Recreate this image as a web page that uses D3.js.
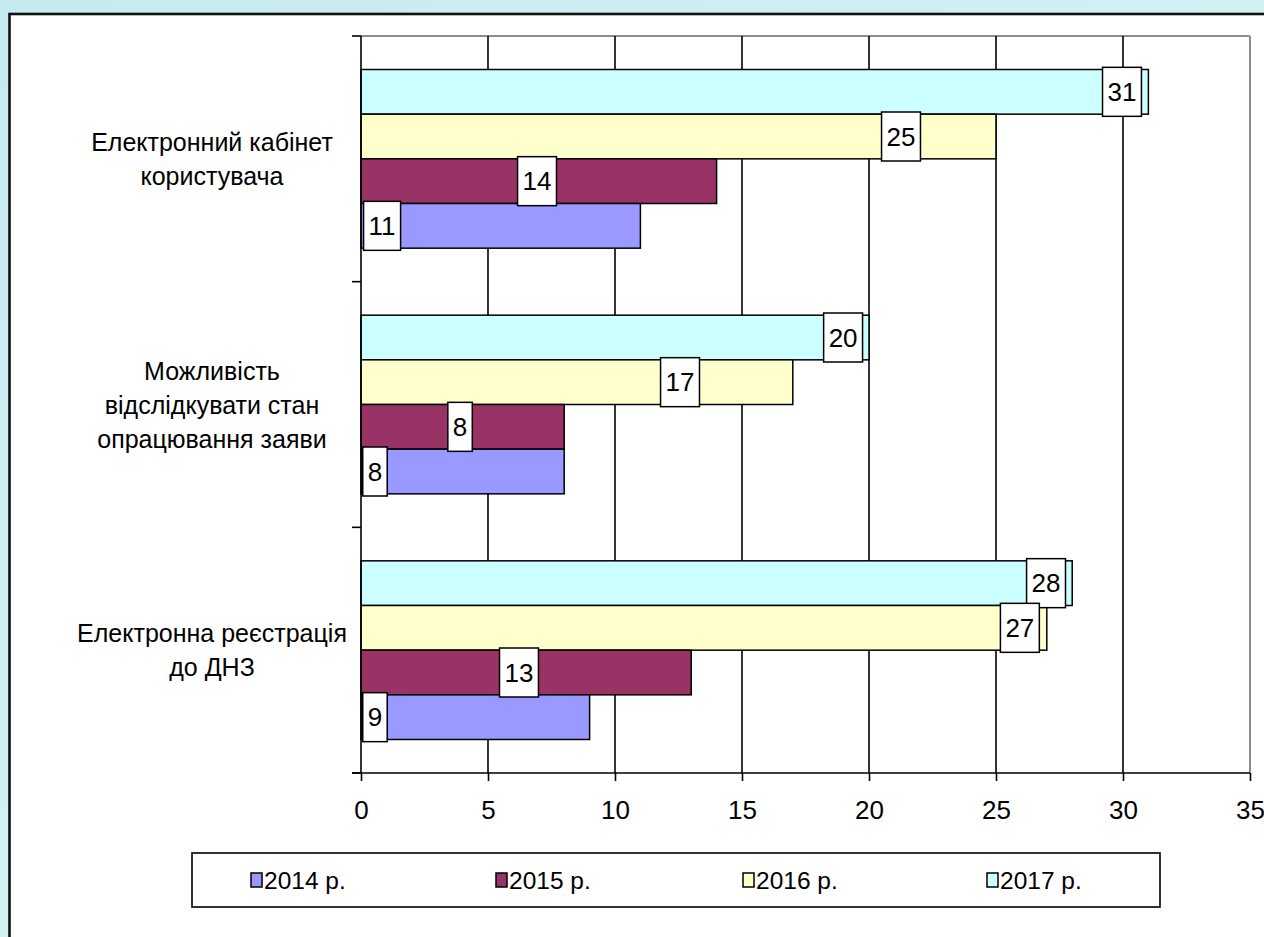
<!DOCTYPE html>
<html>
<head>
<meta charset="utf-8">
<script src="https://cdn.jsdelivr.net/npm/d3@7/dist/d3.min.js"></script>
<style>
  html, body { margin: 0; padding: 0; overflow: hidden; }
  body { width: 1264px; height: 937px; background: #cdeef1; }
  svg { display: block; }
  text { font-family: "Liberation Sans", Arial, sans-serif; fill: #000; }
</style>
</head>
<body>
<svg id="chart" width="1264" height="937"></svg>
<script>
// ---- data ----
const categories = [
  ["Електронний кабінет", "користувача"],
  ["Можливість", "відслідкувати стан", "опрацювання заяви"],
  ["Електронна реєстрація", "до ДНЗ"]
];
const seriesNames = ["2014 р.", "2015 р.", "2016 р.", "2017 р."];
const values2014 = [11, 8, 9];
const values2015 = [14, 8, 13];
const values2016 = [25, 17, 27];
const values2017 = [31, 20, 28];
// where each data label sits, in value units
const labelAt2014 = [0.83, 0.55, 0.55];
const labelAt2015 = [6.93, 3.9, 6.22];
const labelAt2016 = [21.26, 12.56, 25.94];
const labelAt2017 = [29.96, 18.98, 26.97];
const xTicks = [0, 5, 10, 15, 20, 25, 30, 35];

const seriesValues = [values2014, values2015, values2016, values2017];
const seriesLabelAt = [labelAt2014, labelAt2015, labelAt2016, labelAt2017];
const colors = ["#9999FF", "#993366", "#FFFFCC", "#CCFFFF"];

const svg = d3.select("#chart");

// background with soft gradient
const defs = svg.append("defs");
const bg = defs.append("linearGradient").attr("id", "bg").attr("x1", 0).attr("y1", 0).attr("x2", 1).attr("y2", 1);
bg.append("stop").attr("offset", 0).attr("stop-color", "#c6eaee");
bg.append("stop").attr("offset", 0.5).attr("stop-color", "#d3f0f3");
bg.append("stop").attr("offset", 1).attr("stop-color", "#c9ecef");
svg.append("rect").attr("width", 1264).attr("height", 937).attr("fill", "url(#bg)");

// chart frame
svg.append("rect").attr("x", 9.5).attr("y", 14).attr("width", 1270).attr("height", 940)
  .attr("fill", "#fff").attr("stroke", "#111").attr("stroke-width", 2.6);

// scales
const x0 = 361, x1 = 1250, y0 = 36, y1 = 773;
const x = d3.scaleLinear().domain([0, 35]).range([x0, x1]);
const catIdx = d3.range(categories.length);
const y = d3.scaleBand().domain(catIdx).range([y0, y1]).paddingInner(0).paddingOuter(0);
// within a category: 2017 top ... 2014 bottom; 150% gap width (0.75 bar each side)
const inner = d3.scaleBand().domain([3, 2, 1, 0]).range([0, y.bandwidth()])
  .paddingInner(0).paddingOuter(0.75);

const g = svg.append("g");

// plot area border (gray)
g.append("line").attr("x1", x0).attr("x2", x1).attr("y1", y0).attr("y2", y0)
  .attr("stroke", "#8c8c8c").attr("stroke-width", 2);
g.append("line").attr("x1", x1).attr("x2", x1).attr("y1", y0).attr("y2", y1)
  .attr("stroke", "#8c8c8c").attr("stroke-width", 2);

// gridlines
g.selectAll(".grid").data(xTicks.filter(d => d > 0 && d < 35)).enter().append("line")
  .attr("x1", d => x(d)).attr("x2", d => x(d)).attr("y1", y0).attr("y2", y1)
  .attr("stroke", "#000").attr("stroke-width", 1.6);

// bars
catIdx.forEach(ci => {
  [3, 2, 1, 0].forEach(si => {
    const v = seriesValues[si][ci];
    g.append("rect")
      .attr("x", x(0)).attr("y", y(ci) + inner(si))
      .attr("width", x(v) - x(0)).attr("height", inner.bandwidth())
      .attr("fill", colors[si]).attr("stroke", "#000").attr("stroke-width", 1.5);
  });
});

// x axis
const xAxis = d3.axisBottom(x).tickValues(xTicks).tickSize(8).tickPadding(20).tickSizeOuter(0);
const xa = svg.append("g").attr("transform", `translate(0,${y1})`).call(xAxis);
xa.select(".domain").attr("stroke", "#000").attr("stroke-width", 1.6).attr("d", `M352,0H${x1}`);
xa.selectAll(".tick line").attr("stroke", "#000").attr("stroke-width", 1.6);
xa.selectAll(".tick text").attr("font-size", 26).attr("font-family", "Liberation Sans, Arial, sans-serif").attr("fill", "#000");

// y axis (category boundary ticks)
const yBounds = [y0].concat(catIdx.map(ci => y(ci) + y.bandwidth()));
svg.append("line").attr("x1", x0).attr("x2", x0).attr("y1", y0).attr("y2", y1)
  .attr("stroke", "#000").attr("stroke-width", 1.6);
svg.selectAll(".ytick").data(yBounds).enter().append("line")
  .attr("x1", 352).attr("x2", x0).attr("y1", d => d).attr("y2", d => d)
  .attr("stroke", "#000").attr("stroke-width", 1.6);

// category labels
catIdx.forEach(ci => {
  const lines = categories[ci];
  const cy = y(ci) + y.bandwidth() / 2;
  const t = svg.append("text").attr("text-anchor", "middle").attr("font-size", 25);
  lines.forEach((ln, i) => {
    t.append("tspan").attr("x", 212).attr("y", cy + 9 + (i - (lines.length - 1) / 2) * 34).text(ln);
  });
});

// data labels
const lab = svg.append("g");
catIdx.forEach(ci => {
  [3, 2, 1, 0].forEach(si => {
    const v = seriesValues[si][ci];
    const cx = x(seriesLabelAt[si][ci]);
    const cy = y(ci) + inner(si) + inner.bandwidth() / 2;
    const gg = lab.append("g");
    const t = gg.append("text").attr("x", cx).attr("y", cy + 9).attr("text-anchor", "middle")
      .attr("font-size", 26).text(v);
    const w = t.node().getComputedTextLength() + 10;
    gg.insert("rect", "text").attr("x", cx - w / 2).attr("y", cy - 24.5).attr("width", w).attr("height", 49)
      .attr("fill", "#fff").attr("stroke", "#000").attr("stroke-width", 1.5);
  });
});

// legend
const leg = svg.append("g");
leg.append("rect").attr("x", 192).attr("y", 853).attr("width", 968).attr("height", 54)
  .attr("fill", "#fff").attr("stroke", "#000").attr("stroke-width", 1.6);
const legX = [251, 496, 743, 987];
seriesNames.forEach((nm, i) => {
  leg.append("rect").attr("x", legX[i]).attr("y", 873).attr("width", 11).attr("height", 14)
    .attr("fill", colors[i]).attr("stroke", "#000").attr("stroke-width", 1.5);
  leg.append("text").attr("x", legX[i] + 13).attr("y", 889).attr("font-size", 24.5).text(nm);
});
</script>
</body>
</html>
